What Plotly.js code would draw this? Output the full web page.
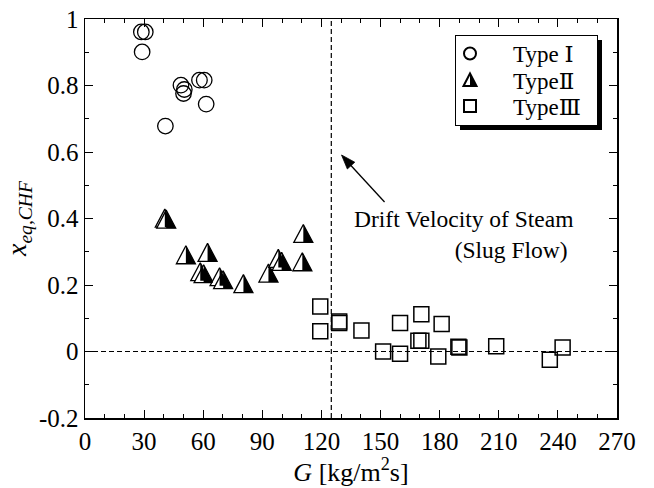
<!DOCTYPE html>
<html><head><meta charset="utf-8">
<script src="https://cdn.plot.ly/plotly-3.0.1.min.js"></script>
<style>html,body{margin:0;padding:0;background:#fff}</style>
</head><body><div id="chart" style="width:654px;height:488px"></div>
<script>
// ---- data ----
const typeI_G = [28.6, 30.6, 29.0, 48.7, 50.4, 50.0, 58.1, 60.5, 61.5, 40.8];
const typeI_x = [0.961, 0.961, 0.901, 0.801, 0.788, 0.776, 0.816, 0.816, 0.744, 0.678];

const typeII_G = [40.5, 41.2, 51.2, 62.2, 58.5, 60.2, 68.3, 70.1, 80.4, 93.1, 98.1, 99.8, 110.3, 110.8];
const typeII_x = [0.401, 0.398, 0.291, 0.298, 0.240, 0.234, 0.225, 0.216, 0.204, 0.236, 0.280, 0.271, 0.270, 0.355];

const typeIII_G = [119.4, 119.4, 129.0, 129.0, 140.3, 151.3, 159.9, 159.9, 170.7, 169.2, 170.7, 181.0, 179.3, 189.5, 190.0, 208.7, 235.9, 242.4];
const typeIII_x = [0.135, 0.061, 0.090, 0.086, 0.063, 0.000, -0.007, 0.086, 0.112, 0.032, 0.032, 0.083, -0.015, 0.014, 0.012, 0.016, -0.025, 0.012];

const seriesNames = ['Type \u2160', 'Type\u2161', 'Type\u2162'];
const xTickVals = [0, 30, 60, 90, 120, 150, 180, 210, 240, 270];
const yTickVals = [-0.2, 0, 0.2, 0.4, 0.6, 0.8, 1];
const yTickText = ['-0.2', '0', '0.2', '0.4', '0.6', '0.8', '1'];
const xRange = [0, 270];
const yRange = [-0.2, 1];
const driftVelocityG = 125;   // vertical reference line
const zeroQuality = 0;        // horizontal reference line
const annoText = 'Drift Velocity of Steam<br>(Slug Flow)\u00a0';
const arrowTip = {G: 130.2, x: 0.591};

const FONT = '"Liberation Serif", "DejaVu Serif", serif';

const data = [
  {type:'scatter', mode:'markers', name:seriesNames[0], x:typeI_G, y:typeI_x,
   marker:{symbol:'circle', size:15.5, color:'rgba(0,0,0,0)', line:{color:'#000', width:1.3}}},
  {type:'scatter', mode:'markers', name:seriesNames[1], x:typeII_G, y:typeII_x,
   marker:{symbol:'triangle-up', size:16, color:'#fff', line:{color:'#000', width:1.3}}},
  {type:'scatter', mode:'markers', name:seriesNames[1]+'-half', x:typeII_G, y:typeII_x, showlegend:false,
   marker:{symbol:'triangle-up', size:16, color:'#000', line:{width:0}}},
  {type:'scatter', mode:'markers', name:seriesNames[2], x:typeIII_G, y:typeIII_x,
   marker:{symbol:'square', size:15, color:'rgba(0,0,0,0)', line:{color:'#000', width:1.5}}}
];

const axisCommon = {
  ticks:'inside', ticklen:8, tickwidth:1, tickcolor:'#000',
  showline:true, linecolor:'#000', linewidth:1.5, mirror:'ticks',
  showgrid:false, zeroline:false, tickfont:{size:25, family:FONT}
};

const layout = {
  width:654, height:488,
  margin:{l:85, r:37, t:19, b:70, pad:0},
  paper_bgcolor:'#fff', plot_bgcolor:'#fff',
  font:{family:FONT, size:23, color:'#000'},
  showlegend:true,
  legend:{x:0.696, y:0.959, xanchor:'left', yanchor:'top', bgcolor:'#fff',
          bordercolor:'#000', borderwidth:1, font:{size:23, family:FONT},
          itemsizing:'constant', tracegroupgap:0},
  xaxis:Object.assign({}, axisCommon, {
    range:xRange, tickmode:'array', tickvals:xTickVals,
    minor:{tickmode:'linear', tick0:0, dtick:10, ticks:'inside', ticklen:4, tickcolor:'#000', tickwidth:1, showgrid:false},
    title:{text:'<i>G</i> [kg/m<sup>2</sup>s]', font:{size:26, family:FONT}, standoff:0}
  }),
  yaxis:Object.assign({}, axisCommon, {
    range:yRange, tickmode:'array', tickvals:yTickVals, ticktext:yTickText,
    minor:{tickmode:'linear', tick0:0, dtick:0.1, ticks:'inside', ticklen:4, tickcolor:'#000', tickwidth:1, showgrid:false},
    title:{text:'<i>x</i><sub><i>eq,CHF</i></sub>', font:{size:28, family:FONT}, standoff:4}
  }),
  shapes:[
    {type:'line', xref:'x', yref:'y', x0:xRange[0], x1:xRange[1], y0:zeroQuality, y1:zeroQuality,
     line:{color:'#000', width:1.2, dash:'5px,3px'}, layer:'below'},
    {type:'line', xref:'x', yref:'y', x0:driftVelocityG, x1:driftVelocityG, y0:yRange[0], y1:yRange[1],
     line:{color:'#000', width:1.2, dash:'5px,3px'}, layer:'below'},
    // arrow shaft and head (pixel offsets from the tip)
    {type:'path', xref:'x', yref:'y', xsizemode:'pixel', ysizemode:'pixel',
     xanchor:arrowTip.G, yanchor:arrowTip.x, path:'M8,-9L43,-47', line:{color:'#000', width:1.3}},
    {type:'path', xref:'x', yref:'y', xsizemode:'pixel', ysizemode:'pixel',
     xanchor:arrowTip.G, yanchor:arrowTip.x, path:'M0,0L5.8,-14L13.2,-7.2Z',
     fillcolor:'#000', line:{color:'#000', width:0.8}}
  ],
  annotations:[
    {xref:'x', yref:'y', x:249, y:0.3525, xanchor:'right', yanchor:'middle', align:'right',
     text:annoText, showarrow:false, font:{size:23.5, family:FONT}}
  ]
};

const gd = document.getElementById('chart');
Plotly.newPlot(gd, data, layout, {staticPlot:true, displayModeBar:false}).then(function(){
  const traces = gd.querySelectorAll('.scatterlayer .trace');
  traces[1].querySelectorAll('path.point').forEach(function(p){ p.setAttribute('d','M-9.5,9L9.5,9L0,-9Z'); });
  traces[2].querySelectorAll('path.point').forEach(function(p){ p.setAttribute('d','M0,9L9.5,9L0,-9Z'); });

  // legend fine layout: box 142x90 at (455,35), rows 26 px apart, drop shadow
  const leg = gd.querySelector('g.legend');
  if (!leg) return;
  leg.setAttribute('transform','translate(455,35)');
  const bg = leg.querySelector('rect.bg');
  const W = 142, H = 90;
  if (bg) {
    bg.setAttribute('x', 0.5); bg.setAttribute('y', 0.5);
    bg.setAttribute('width', W); bg.setAttribute('height', H);
    const sh = bg.cloneNode(false);
    sh.setAttribute('class','legshadow');
    sh.setAttribute('x', 4.5); sh.setAttribute('y', 4.5);
    sh.style.fill = '#000'; sh.style.stroke = 'none'; sh.style.strokeWidth = 0;
    bg.parentNode.insertBefore(sh, bg);
  }
  const rowY = [18.5, 45, 71];
  const items = leg.querySelectorAll('g.traces');
  items.forEach(function(it, i){
    it.setAttribute('transform','translate(1,' + rowY[i] + ')');
    const lp = it.querySelector('g.legendpoints');
    if (lp) lp.setAttribute('transform','translate(-6,0)');
    const tx = it.querySelector('text.legendtext');
    if (tx) {
      tx.setAttribute('x', 57);
      tx.querySelectorAll('tspan[x]').forEach(function(t){ t.setAttribute('x', 57); });
    }
  });
  if (items[1]) {
    const pt = items[1].querySelector('path.scatterpts');
    if (pt) {
      pt.setAttribute('d','M-6.5,6L6.5,6L0,-6.5Z');
      const half = pt.cloneNode(false);
      half.setAttribute('d','M0,6L6.5,6L0,-6.5Z');
      half.style.fill = '#000'; half.style.stroke = 'none';
      pt.parentNode.appendChild(half);
    }
  }
  const sb = leg.querySelector('g.scrollbox');
  if (sb) sb.removeAttribute('clip-path');
});
</script></body></html>
